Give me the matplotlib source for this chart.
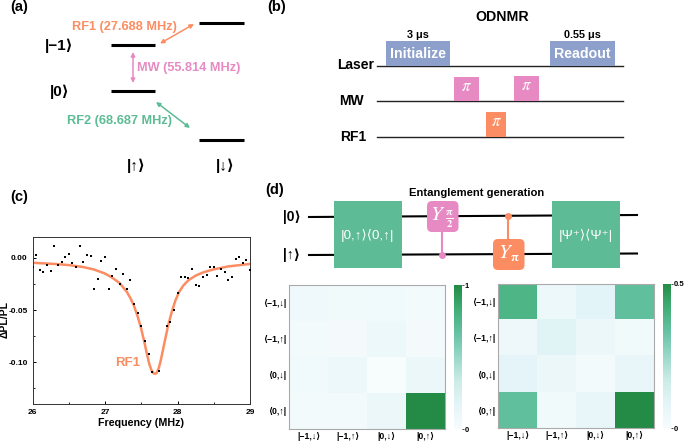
import numpy as np
import matplotlib
matplotlib.use("Agg")
import matplotlib.pyplot as plt
from matplotlib.colors import LinearSegmentedColormap
from matplotlib.patches import FancyBboxPatch, Rectangle

plt.rcParams['font.family'] = ['Liberation Sans', 'DejaVu Sans']
plt.rcParams['mathtext.fontset'] = 'stix'

W, H = 685, 441

# (c) ODNMR data
freq = [26.0, 26.05, 26.1, 26.15, 26.2, 26.25, 26.3, 26.35, 26.4, 26.45, 26.5, 26.55,
        26.6, 26.65, 26.7, 26.75, 26.8, 26.85, 26.9, 26.95, 27.0, 27.05, 27.1, 27.15,
        27.2, 27.25, 27.3, 27.35, 27.4, 27.45, 27.5, 27.55, 27.6, 27.65, 27.75, 27.85,
        27.9, 27.95, 28.0, 28.05, 28.1, 28.15, 28.2, 28.25, 28.3, 28.35, 28.4, 28.45,
        28.5, 28.55, 28.6, 28.65, 28.7, 28.75, 28.8, 28.85, 28.9, 28.95, 29.0]
dpl = [-0.009, 0.003, -0.012, -0.014, -0.007, -0.013, 0.011, -0.007, -0.004, 0.001,
       0.004, -0.0045, -0.009, 0.011, -0.0035, 0.0025, 0.002, -0.030, -0.020, -0.003,
       0.001, -0.0295, -0.017, -0.011, -0.025, -0.0155, -0.030, -0.021, -0.044, -0.053,
       -0.065, -0.080, -0.092, -0.109, -0.1085, -0.065, -0.061, -0.050, -0.034, -0.018,
       -0.018, -0.019, -0.011, -0.026, -0.027, -0.018, -0.016, -0.0085, -0.009, -0.017,
       -0.011, -0.014, -0.021, -0.018, -0.001, 0.001, -0.005, -0.002, -0.012]
fit_freq = [26.0, 26.3, 26.5, 26.7, 26.85, 27.0, 27.1, 27.2, 27.3, 27.35, 27.4, 27.45,
            27.5, 27.55, 27.58, 27.61, 27.64, 27.67, 27.69, 27.71, 27.74, 27.77, 27.8,
            27.83, 27.87, 27.92, 27.97, 28.02, 28.08, 28.15, 28.25, 28.35, 28.5, 28.7,
            29.0]
fit_dpl = [-0.0047, -0.0058, -0.0069, -0.0088, -0.0112, -0.0150, -0.0190, -0.0240,
           -0.0325, -0.0385, -0.0460, -0.0560, -0.0680, -0.0830, -0.0925, -0.1015,
           -0.1075, -0.1105, -0.1110, -0.1105, -0.1060, -0.0980, -0.0880, -0.0780,
           -0.0650, -0.0520, -0.0410, -0.0330, -0.0265, -0.0215, -0.0170, -0.0140,
           -0.0110, -0.0082, -0.0058]

# (d) density matrices
kets = ["|−1,↓⟩", "|−1,↑⟩", "|0,↓⟩", "|0,↑⟩"]
bras = ["⟨−1,↓|", "⟨−1,↑|", "⟨0,↓|", "⟨0,↑|"]
rho_left = [[0.07, 0.05, 0.06, 0.04],
            [0.04, 0.03, 0.09, 0.03],
            [0.06, 0.09, 0.00, 0.10],
            [0.04, 0.04, 0.10, 1.00]]
rho_right = [[0.385, 0.045, 0.09, 0.345],
             [0.04, 0.10, 0.05, 0.025],
             [0.085, 0.05, 0.02, 0.07],
             [0.345, 0.025, 0.07, 0.50]]

ORANGE = "#fc8d62"
PINK = "#e78ac3"
GREEN = "#5dbb96"
BLUE = "#8da0cb"

fig = plt.figure(figsize=(W / 100, H / 100), dpi=100)


def axes_px(x0, y0, x1, y1):
    return fig.add_axes([x0 / W, 1 - y1 / H, (x1 - x0) / W, (y1 - y0) / H])


# overlay in pixel coordinates for the schematic parts
ov = fig.add_axes([0, 0, 1, 1])
ov.set_xlim(0, W)
ov.set_ylim(H, 0)
ov.axis("off")


def txt(x, y, s, size=8.5, color="black", weight="bold", ha="center", **kw):
    ov.text(x, y, s, fontsize=size, color=color, fontweight=weight, ha=ha, va="center", **kw)


def arrow(x0, y0, x1, y1, color):
    ov.annotate("", xy=(x1, y1), xytext=(x0, y0),
                arrowprops=dict(arrowstyle="<|-|>", color=color, lw=1.1, mutation_scale=6,
                                shrinkA=0, shrinkB=0))


for lab, x, y in [("(a)", 19.5, 7), ("(b)", 277, 7), ("(c)", 19, 197), ("(d)", 275, 190)]:
    txt(x, y, lab, size=10.5)

# (a) energy levels
for x0, x1, y in [(111, 155, 45), (111, 155, 90.5), (199, 244, 23), (199, 244, 139.5)]:
    ov.plot([x0, x1], [y, y], color="black", lw=2.2, solid_capstyle="butt")
txt(124.5, 27, "RF1 (27.688 MHz)", color=ORANGE, size=9.2)
txt(188.5, 68, "MW (55.814 MHz)", color=PINK, size=9.2)
txt(120, 121, "RF2 (68.687 MHz)", color=GREEN, size=9.2)
arrow(160, 43.5, 194, 24, ORANGE)
arrow(133, 52, 133, 83, PINK)
arrow(156, 102, 190, 128, GREEN)
txt(59, 46, "|−1⟩", size=11)
txt(59.5, 92, "|0⟩", size=11)
txt(136, 166, "|↑⟩", size=11)
txt(225, 166, "|↓⟩", size=11)

# (b) pulse sequence
txt(502, 17, "ODNMR", size=10.2)
txt(418, 35, "3 μs", size=7.8)
txt(582, 34.5, "0.55 μs", size=7.8)
for lab, x, y in [("Laser", 355.5, 65), ("MW", 351.5, 101), ("RF1", 353.5, 137)]:
    txt(x, y, lab, size=10)
for y in (66, 101, 137):
    ov.plot([377, 623], [y, y], color="#222222", lw=1)
for x0, x1, y0, y1, c, s, fs in [(386, 450, 41, 66, BLUE, "Initialize", 10.2),
                                 (550, 615, 41, 66, BLUE, "Readout", 10.2),
                                 (454, 479, 77, 101, PINK, r"$\pi$", 12),
                                 (514, 539, 76, 101, PINK, r"$\pi$", 12),
                                 (486, 506, 112, 137, ORANGE, r"$\pi$", 12)]:
    ov.add_patch(Rectangle((x0, y0), x1 - x0, y1 - y0, color=c, lw=0, zorder=3))
    is_laser = s[0] != "$"
    ov.text((x0 + x1) / 2, (y0 + y1) / 2 if is_laser else y0 + 9.5, s, color="white", fontsize=fs,
            ha="center", va="center", fontweight="bold" if is_laser else "normal", zorder=4)

# (d) circuit
txt(477, 193, "Entanglement generation", size=8.1)
txt(292, 217, "|0⟩", size=10)
txt(292, 255, "|↑⟩", size=10)
ov.plot([309, 637], [217, 215], color="black", lw=1.5)
ov.plot([309, 637], [255, 253.5], color="black", lw=1.5)
for x0, s in [(334, "|0,↑⟩⟨0,↑|"), (552, "|Ψ⁺⟩⟨Ψ⁺|")]:
    ov.add_patch(Rectangle((x0, 201), 68, 67, color=GREEN, lw=0, zorder=3))
    ov.text(x0 + 34, 235, s, color="white", fontsize=9.6, ha="center", va="center", zorder=4)
ov.plot([442, 442], [225, 255], color=PINK, lw=1.5, zorder=2)
ov.plot([442], [255], "o", color=PINK, ms=4, zorder=2)
ov.plot([508, 508], [216, 245], color=ORANGE, lw=1.5, zorder=2)
ov.plot([508], [216], "o", color=ORANGE, ms=4, zorder=2)
for x0, y0, yx, c, sub, subsize in [(427, 201, 11, PINK, r"$\mathbf{\frac{\pi}{2}}$", 11),
                                    (493, 239, 13, ORANGE, r"$\mathbf{\pi}$", 9)]:
    ov.add_patch(FancyBboxPatch((x0 + 5, y0 + 5), 21.5, 21, boxstyle="round,pad=5,rounding_size=5",
                                fc=c, ec="none", zorder=3))
    ov.text(x0 + yx, y0 + 14, r"$Y$", color="white", fontsize=15, ha="center", va="center", zorder=4)
    ov.text(x0 + 22, y0 + 19, sub, color="white", fontsize=subsize, ha="center", va="center", zorder=4)

# (c) resonance
ax = axes_px(32.5, 237, 250, 404)
ax.plot(fit_freq, fit_dpl, color=ORANGE, lw=1.8, zorder=2)
ax.scatter(freq, dpl, s=3, color="black", marker="s", lw=0, zorder=3)
ax.set_xlim(26, 29)
ax.set_ylim(-0.14, 0.02)
ax.set_xticks([26, 27, 28, 29])
ax.set_xticks([26.5, 27.5, 28.5], minor=True)
ax.set_yticks([0, -0.05, -0.10], ["0.00", "-0.05", "-0.10"])
ax.set_yticks([-0.125, -0.075, -0.025], minor=True)
ax.tick_params(labelsize=6, width=0.7, length=2.5, pad=3.5, direction="in")
ax.tick_params(which="minor", width=0.6, length=1.5, direction="in")
for t in ax.get_xticklabels() + ax.get_yticklabels():
    t.set_fontweight("bold")
for s in ax.spines.values():
    s.set_linewidth(0.7)
    s.set_color("#333333")
ax.set_xlabel("Frequency (MHz)", fontsize=7.7, fontweight="bold", labelpad=1.5)
ov.text(5, 320, "ΔPL/PL", fontsize=7.5, fontweight="bold", rotation=90, ha="center", va="center")
ax.text(27.31, -0.1004, "RF1", color=ORANGE, fontsize=9.5, fontweight="bold", ha="center", va="center")

# (d) heatmaps
cmap = LinearSegmentedColormap.from_list(
    "rho", ["#f7fcfd", "#e5f5f9", "#ccece6", "#99d8c9", "#66c2a4", "#41ae76", "#238b45"])
for rho, box, cbox, vmax, toplab in [(rho_left, (289.3, 285, 445.3, 429), (454.3, 285, 462, 429), 1.0, "1"),
                                     (rho_right, (498.3, 283.7, 654, 428.3), (663.3, 283.7, 671, 428.3), 0.5, "0.5")]:
    ahm = axes_px(*box)
    ahm.imshow(np.array(rho), cmap=cmap, vmin=0, vmax=vmax, aspect="auto")
    ahm.set_xticks(range(4), kets)
    ahm.set_yticks(range(4), bras)
    ahm.tick_params(labelsize=6.3, length=0, pad=2)
    for t in ahm.get_xticklabels() + ahm.get_yticklabels():
        t.set_fontweight("bold")
    for s in ahm.spines.values():
        s.set_color("#aaaaaa")
        s.set_linewidth(0.8)
    cax = axes_px(*cbox)
    cax.imshow(np.linspace(1, 0, 256).reshape(-1, 1), cmap=cmap, aspect="auto",
               extent=[0, 1, 0, vmax])
    cax.set_xticks([])
    cax.yaxis.tick_right()
    cax.set_yticks([0, vmax], ["0", toplab])
    cax.tick_params(labelsize=5.5, length=1.5, width=0.5, pad=0.5)
    for t in cax.get_yticklabels():
        t.set_fontweight("bold")
    for s in cax.spines.values():
        s.set_visible(False)

fig.savefig("out.png", dpi=100)
